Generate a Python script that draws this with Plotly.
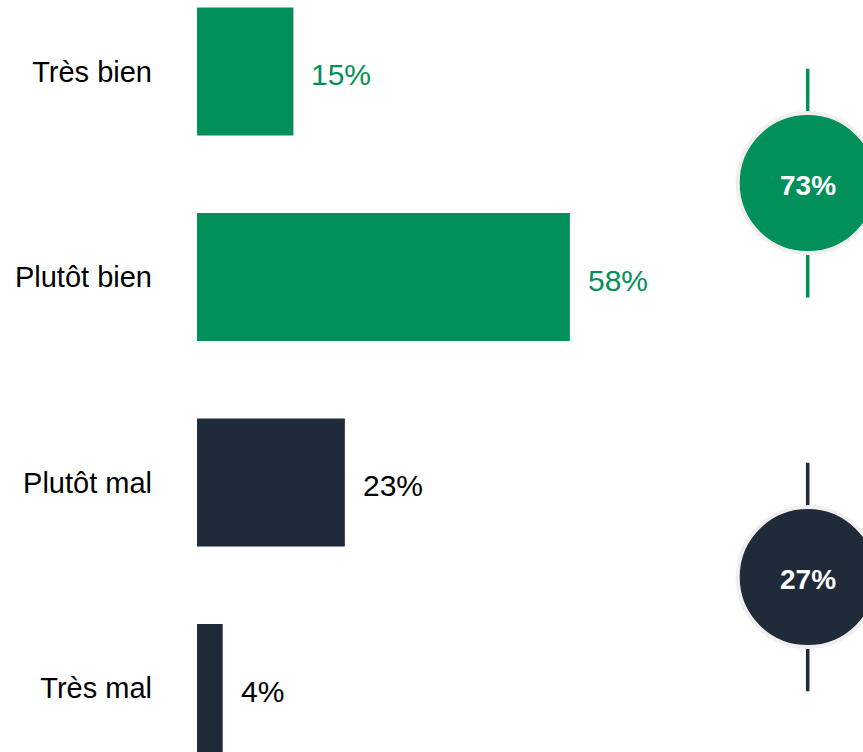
import plotly.graph_objects as go

categories = ["Très bien", "Plutôt bien", "Plutôt mal", "Très mal"]
values = [15, 58, 23, 4]
groups = ["pos", "pos", "neg", "neg"]

GREEN = "#02905A"
NAVY = "#1F2B39"
colors = {"pos": GREEN, "neg": NAVY}
label_colors = {"pos": GREEN, "neg": "#000000"}
bar_colors = [colors[g] for g in groups]

FONT = "Liberation Sans, Arial, sans-serif"

fig = go.Figure()
fig.add_trace(go.Bar(
    y=categories,
    x=values,
    orientation="h",
    width=0.623,
    marker=dict(color=bar_colors, line=dict(width=0)),
    hoverinfo="skip",
))

# value labels next to the bars
for cat, val, g in zip(categories, values, groups):
    fig.add_annotation(
        x=val, y=cat, xref="x", yref="y",
        text=f"{val}%", showarrow=False,
        xanchor="left", yanchor="middle", xshift=16, yshift=-3,
        font=dict(family=FONT, size=30, color=label_colors[g]),
    )

# summary circles: sum of each group
pos_total = sum(v for v, g in zip(values, groups) if g == "pos")
neg_total = sum(v for v, g in zip(values, groups) if g == "neg")
circle_x = 95
summaries = [(pos_total, GREEN, 0.543), (neg_total, NAVY, 2.46)]

for total, col, yc in summaries:
    # vertical stem behind the circle
    fig.add_shape(
        type="line", xref="x", yref="y",
        x0=circle_x, x1=circle_x, y0=yc - 0.556, y1=yc + 0.556,
        line=dict(color=col, width=3.5),
    )
    fig.add_shape(
        type="circle", xref="x", yref="y",
        xsizemode="pixel", ysizemode="pixel",
        xanchor=circle_x, yanchor=yc,
        x0=-70, x1=70, y0=-70, y1=70,
        fillcolor=col, line=dict(color="#EFEFEF", width=4),
    )
    fig.add_annotation(
        x=circle_x, y=yc, xref="x", yref="y",
        text=f"<b>{total}%</b>", showarrow=False,
        xanchor="center", yanchor="middle", yshift=-2,
        font=dict(family=FONT, size=28, color="white"),
    )

fig.update_layout(
    width=863, height=752,
    margin=dict(l=197, r=0, t=0, b=0),
    plot_bgcolor="white", paper_bgcolor="white",
    showlegend=False,
    xaxis=dict(range=[0, 103.6], visible=False, fixedrange=True),
    yaxis=dict(
        type="category",
        range=[3.311, -0.348],
        showgrid=False, zeroline=False, showline=False,
        ticks="", ticklabelstandoff=44,
        tickfont=dict(family=FONT, size=29, color="#000000"),
        fixedrange=True,
    ),
)

fig.write_html(
    "out.html",
    config={"displayModeBar": False},
    post_script="document.body.style.margin='0';",
)
